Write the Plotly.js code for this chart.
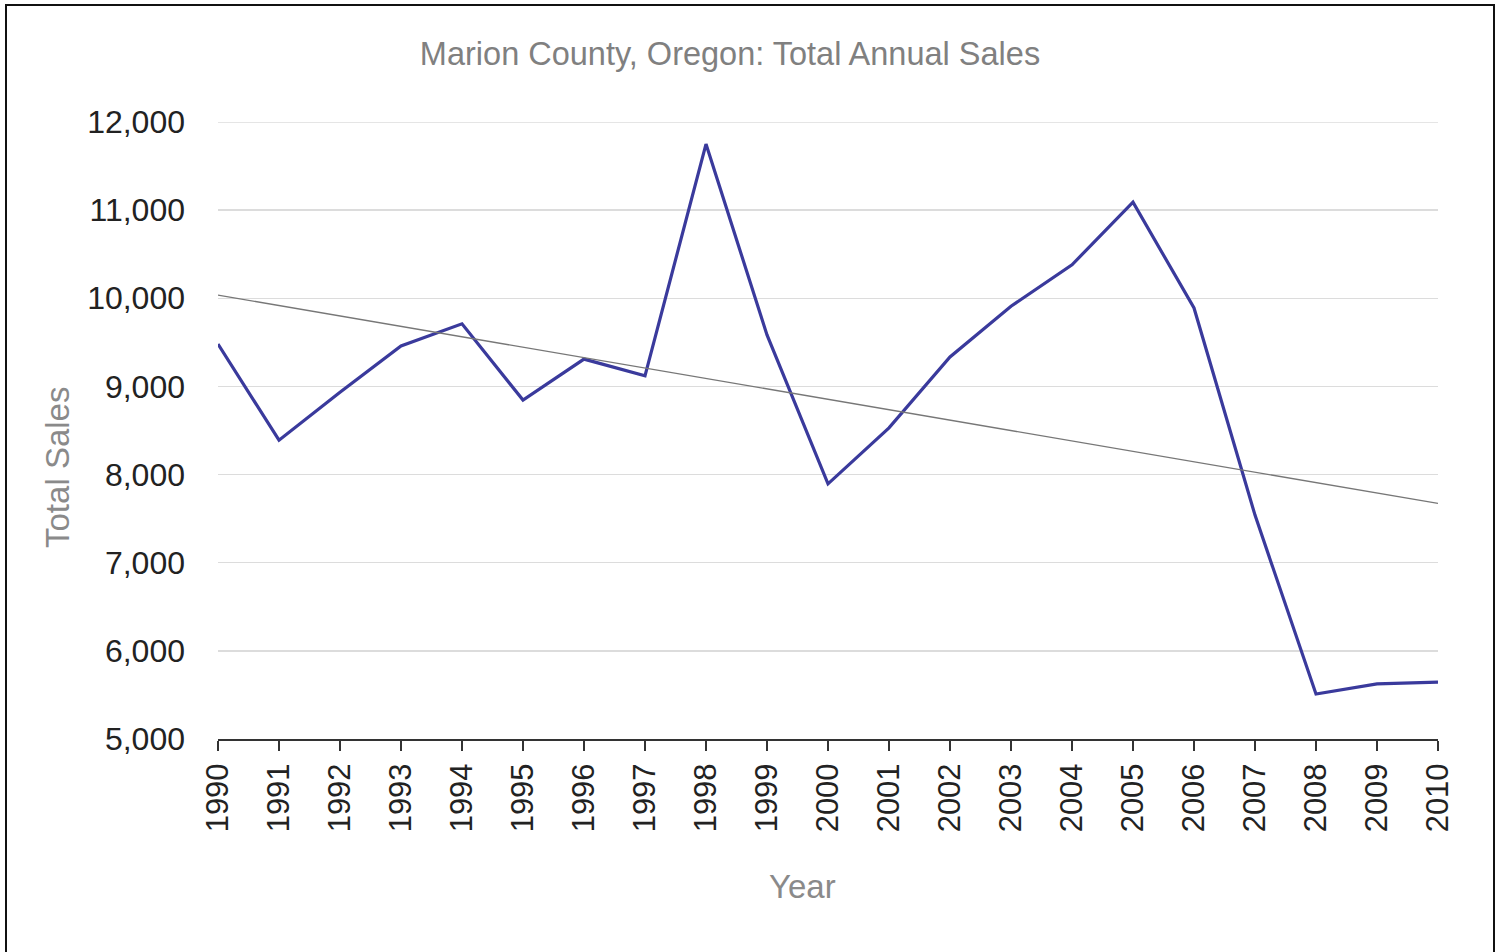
<!DOCTYPE html>
<html>
<head>
<meta charset="utf-8">
<script src="https://cdn.plot.ly/plotly-3.0.1.min.js"></script>
<style>
  html, body { margin: 0; padding: 0; background: #fff; overflow: hidden; }
  #wrap { position: relative; width: 1499px; height: 952px; }
  #chart { position: absolute; left: 0; top: 0; width: 1499px; height: 952px; }
  #frame { position: absolute; left: 5px; top: 4px; width: 1486px; height: 960px;
           border: 2px solid #111; border-bottom: none; pointer-events: none; }
</style>
</head>
<body>
<div id="wrap">
  <div id="chart"></div>
  <div id="frame"></div>
</div>
<script>
const years = [1990,1991,1992,1993,1994,1995,1996,1997,1998,1999,2000,2001,2002,2003,2004,2005,2006,2007,2008,2009,2010];
const totalSales = [9480,8390,8935,9460,9710,8845,9310,9120,11750,9585,7895,8530,9335,9910,10380,11090,9890,7540,5510,5625,5645];
const yTickVals = [5000,6000,7000,8000,9000,10000,11000,12000];
const chartTitle = "Marion County, Oregon: Total Annual Sales";
const xTitle = "Year";
const yTitle = "Total Sales";

// Linear least-squares trendline of the series
const n = years.length;
const mx = years.reduce((a,b)=>a+b,0)/n;
const my = totalSales.reduce((a,b)=>a+b,0)/n;
let sxy = 0, sxx = 0;
for (let i = 0; i < n; i++) { sxy += (years[i]-mx)*(totalSales[i]-my); sxx += (years[i]-mx)**2; }
const slope = sxy/sxx, icpt = my - slope*mx;
const trendX = [years[0], years[n-1]];
const trendY = trendX.map(x => icpt + slope*x);

const FONT = "Arial, 'Liberation Sans', sans-serif";
const yMax = yTickVals[yTickVals.length-1];

const traces = [
  { x: years, y: totalSales, type: 'scatter', mode: 'lines',
    line: { color: '#3a3a9c', width: 3.2 }, hoverinfo: 'x+y' },
  { x: trendX, y: trendY, type: 'scatter', mode: 'lines',
    line: { color: '#777777', width: 1.3 }, hoverinfo: 'skip' }
];

const layout = {
  width: 1499, height: 952,
  margin: { l: 218, r: 61, t: 122, b: 213 },
  paper_bgcolor: 'rgba(0,0,0,0)', plot_bgcolor: '#fff',
  showlegend: false,
  font: { family: FONT },
  title: { text: chartTitle, xref: 'container', yref: 'container', x: 0.487, y: 0.9433,
           xanchor: 'center', yanchor: 'middle', font: { family: FONT, size: 32.5, color: '#808080' } },
  xaxis: {
    range: [1990, 2010], tickvals: years, ticktext: years.map(String),
    tickangle: -90, tickfont: { family: FONT, size: 31, color: '#222' },
    showgrid: false, zeroline: false, showline: true, linecolor: '#333', linewidth: 2,
    ticks: 'outside', ticklen: 10, tickwidth: 2, tickcolor: '#333', ticklabelstandoff: 0
  },
  yaxis: {
    range: [5000, yMax], tickvals: yTickVals, tickformat: ',d',
    tickfont: { family: FONT, size: 32, color: '#222' },
    showgrid: true, gridcolor: '#dcdcdc', gridwidth: 1.3, zeroline: false, showline: false,
    ticks: '', ticklabelstandoff: 32
  },
  shapes: [
    { type: 'line', xref: 'paper', yref: 'y', x0: 0, x1: 1, y0: yMax, y1: yMax,
      line: { color: '#dcdcdc', width: 1.3 }, layer: 'below' }
  ],
  annotations: [
    { text: yTitle, xref: 'paper', yref: 'paper', x: -0.132, y: 0.4408, textangle: -90,
      xanchor: 'center', yanchor: 'middle', showarrow: false,
      font: { family: FONT, size: 33, color: '#8a8a8a' } },
    { text: xTitle, xref: 'paper', yref: 'paper', x: 0.4795, y: -0.2383,
      xanchor: 'center', yanchor: 'middle', showarrow: false,
      font: { family: FONT, size: 33, color: '#8a8a8a' } }
  ]
};

Plotly.newPlot('chart', traces, layout, { displayModeBar: false, staticPlot: true });
</script>
</body>
</html>
